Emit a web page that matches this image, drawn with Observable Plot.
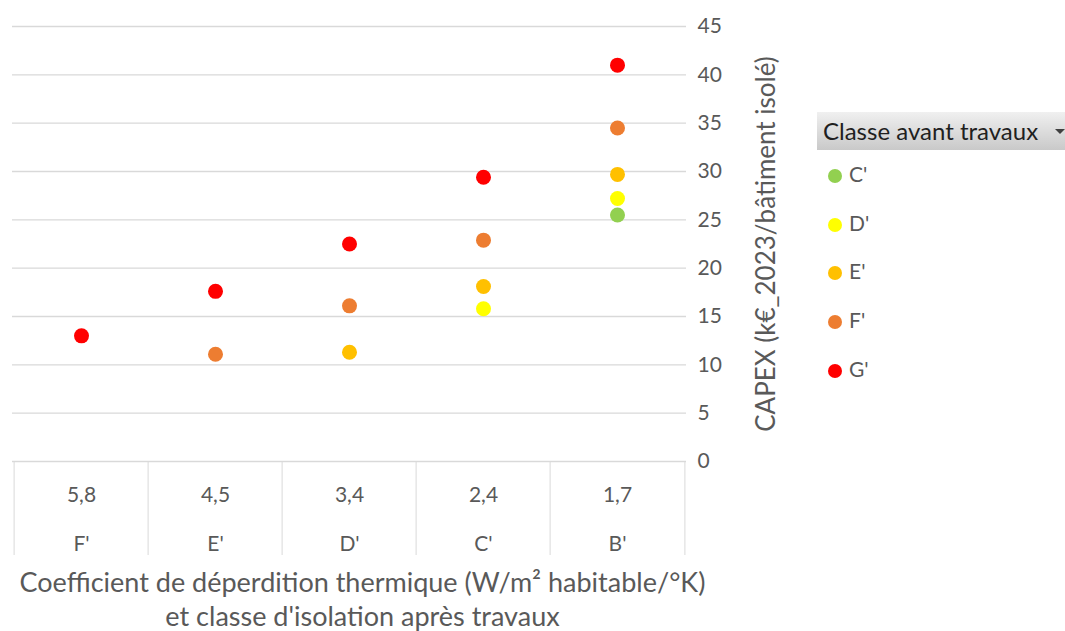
<!DOCTYPE html>
<html><head><meta charset="utf-8">
<script src="https://cdn.jsdelivr.net/npm/d3@7"></script>
<script src="https://cdn.jsdelivr.net/npm/@observablehq/plot@0.6"></script>
<style>
body{margin:0;background:#fff;font-family:Lato, "Open Sans", sans-serif;}
#wrap{position:relative;width:1065px;height:631px;overflow:hidden;}
#legend{position:absolute;left:817px;top:112px;width:248px;}
#legend .hdr{height:38px;background:linear-gradient(#f0f0f0,#c9c9c9);color:#1f1f1f;font-size:24px;line-height:38px;padding-left:6px;position:relative;white-space:nowrap;}
#legend .hdr .arr{position:absolute;right:0px;top:17px;width:0;height:0;border-left:5px solid transparent;border-right:5px solid transparent;border-top:5px solid #404040;}
#legend .item{position:absolute;left:11px;height:24px;font-size:21px;color:#595959;line-height:24px;}
#legend .dot{display:inline-block;width:14px;height:14px;border-radius:50%;margin-right:7px;vertical-align:-1px;}
</style></head><body><div id="wrap"></div>
<script>
const coefficients = ["5,8","4,5","3,4","2,4","1,7"];
const classesApres = ["F'","E'","D'","C'","B'"];
const classesAvant = ["C'","D'","E'","F'","G'"];
const colors = ["#92D050","#FFFF00","#FFC000","#ED7D31","#FF0000"];
const capexC = [null, null, null, null, 25.5];
const capexD = [null, null, null, 15.8, 27.2];
const capexE = [null, null, 11.3, 18.1, 29.7];
const capexF = [null, 11.1, 16.1, 22.9, 34.5];
const capexG = [13.0, 17.6, 22.5, 29.4, 41.0];
const yTicks = [0, 5, 10, 15, 20, 25, 30, 35, 40, 45];
const yTitle = "CAPEX (k€_2023/bâtiment isolé)";
const xTitle = "Coefficient de déperdition thermique (W/m² habitable/°K)\net classe d'isolation après travaux";
const legendTitle = "Classe avant travaux";

const series = [capexC, capexD, capexE, capexF, capexG];
const data = [];
series.forEach((vals, s) => vals.forEach((v, i) => {
  if (v != null) data.push({coef: coefficients[i], classe: classesAvant[s], value: v});
}));

const W = 1065, H = 631;
const mL = 12, mR = 379, mT = 26, mB = 170;
const bw = (W - mL - mR) / coefficients.length;

const chart = Plot.plot({
  width: W, height: H,
  marginLeft: mL, marginRight: mR, marginTop: mT, marginBottom: mB,
  style: {fontFamily: "Lato, 'Open Sans', sans-serif", fontSize: "21px", color: "#595959", background: "transparent", overflow: "visible"},
  x: {type: "band", domain: coefficients, padding: 0},
  y: {domain: [0, 45]},
  color: {domain: classesAvant, range: colors},
  marks: [
    Plot.ruleY(yTicks, {stroke: "#d9d9d9", strokeWidth: 1.3}),
    Plot.axisY({anchor: "right", ticks: yTicks, tickSize: 0, tickPadding: 11, label: null}),
    Plot.axisX({anchor: "bottom", tickSize: 94, tickFormat: () => "", dx: -bw / 2, stroke: "#d9d9d9", strokeOpacity: 1, label: null}),
    Plot.axisX({anchor: "bottom", ticks: [coefficients[coefficients.length - 1]], tickSize: 94, tickFormat: () => "", dx: bw / 2, stroke: "#d9d9d9", strokeOpacity: 1, label: null}),
    Plot.axisX({anchor: "bottom", tickSize: 0, tickPadding: 26, label: null}),
    Plot.axisX({anchor: "bottom", tickSize: 0, tickPadding: 75, tickFormat: d => classesApres[coefficients.indexOf(d)], label: null}),
    Plot.text([yTitle], {frameAnchor: "right", dx: 80, rotate: -90, textAnchor: "middle", fontSize: 26, fill: "#595959"}),
    Plot.text([xTitle], {frameAnchor: "bottom", dx: 13, dy: 137, lineAnchor: "middle", lineHeight: 1.24, fontSize: 27, fill: "#595959"}),
    Plot.dot(data, {x: "coef", y: "value", fill: "classe", r: 7.5})
  ]
});
const wrap = document.getElementById("wrap");
wrap.appendChild(chart);

const legend = document.createElement("div");
legend.id = "legend";
let html = `<div class="hdr">${legendTitle}<span class="arr"></span></div>`;
classesAvant.forEach((c, i) => {
  html += `<div class="item" style="top:${50 + i * 48.7}px"><span class="dot" style="background:${colors[i]}"></span>${c}</div>`;
});
legend.innerHTML = html;
wrap.appendChild(legend);
</script>
</body></html>
